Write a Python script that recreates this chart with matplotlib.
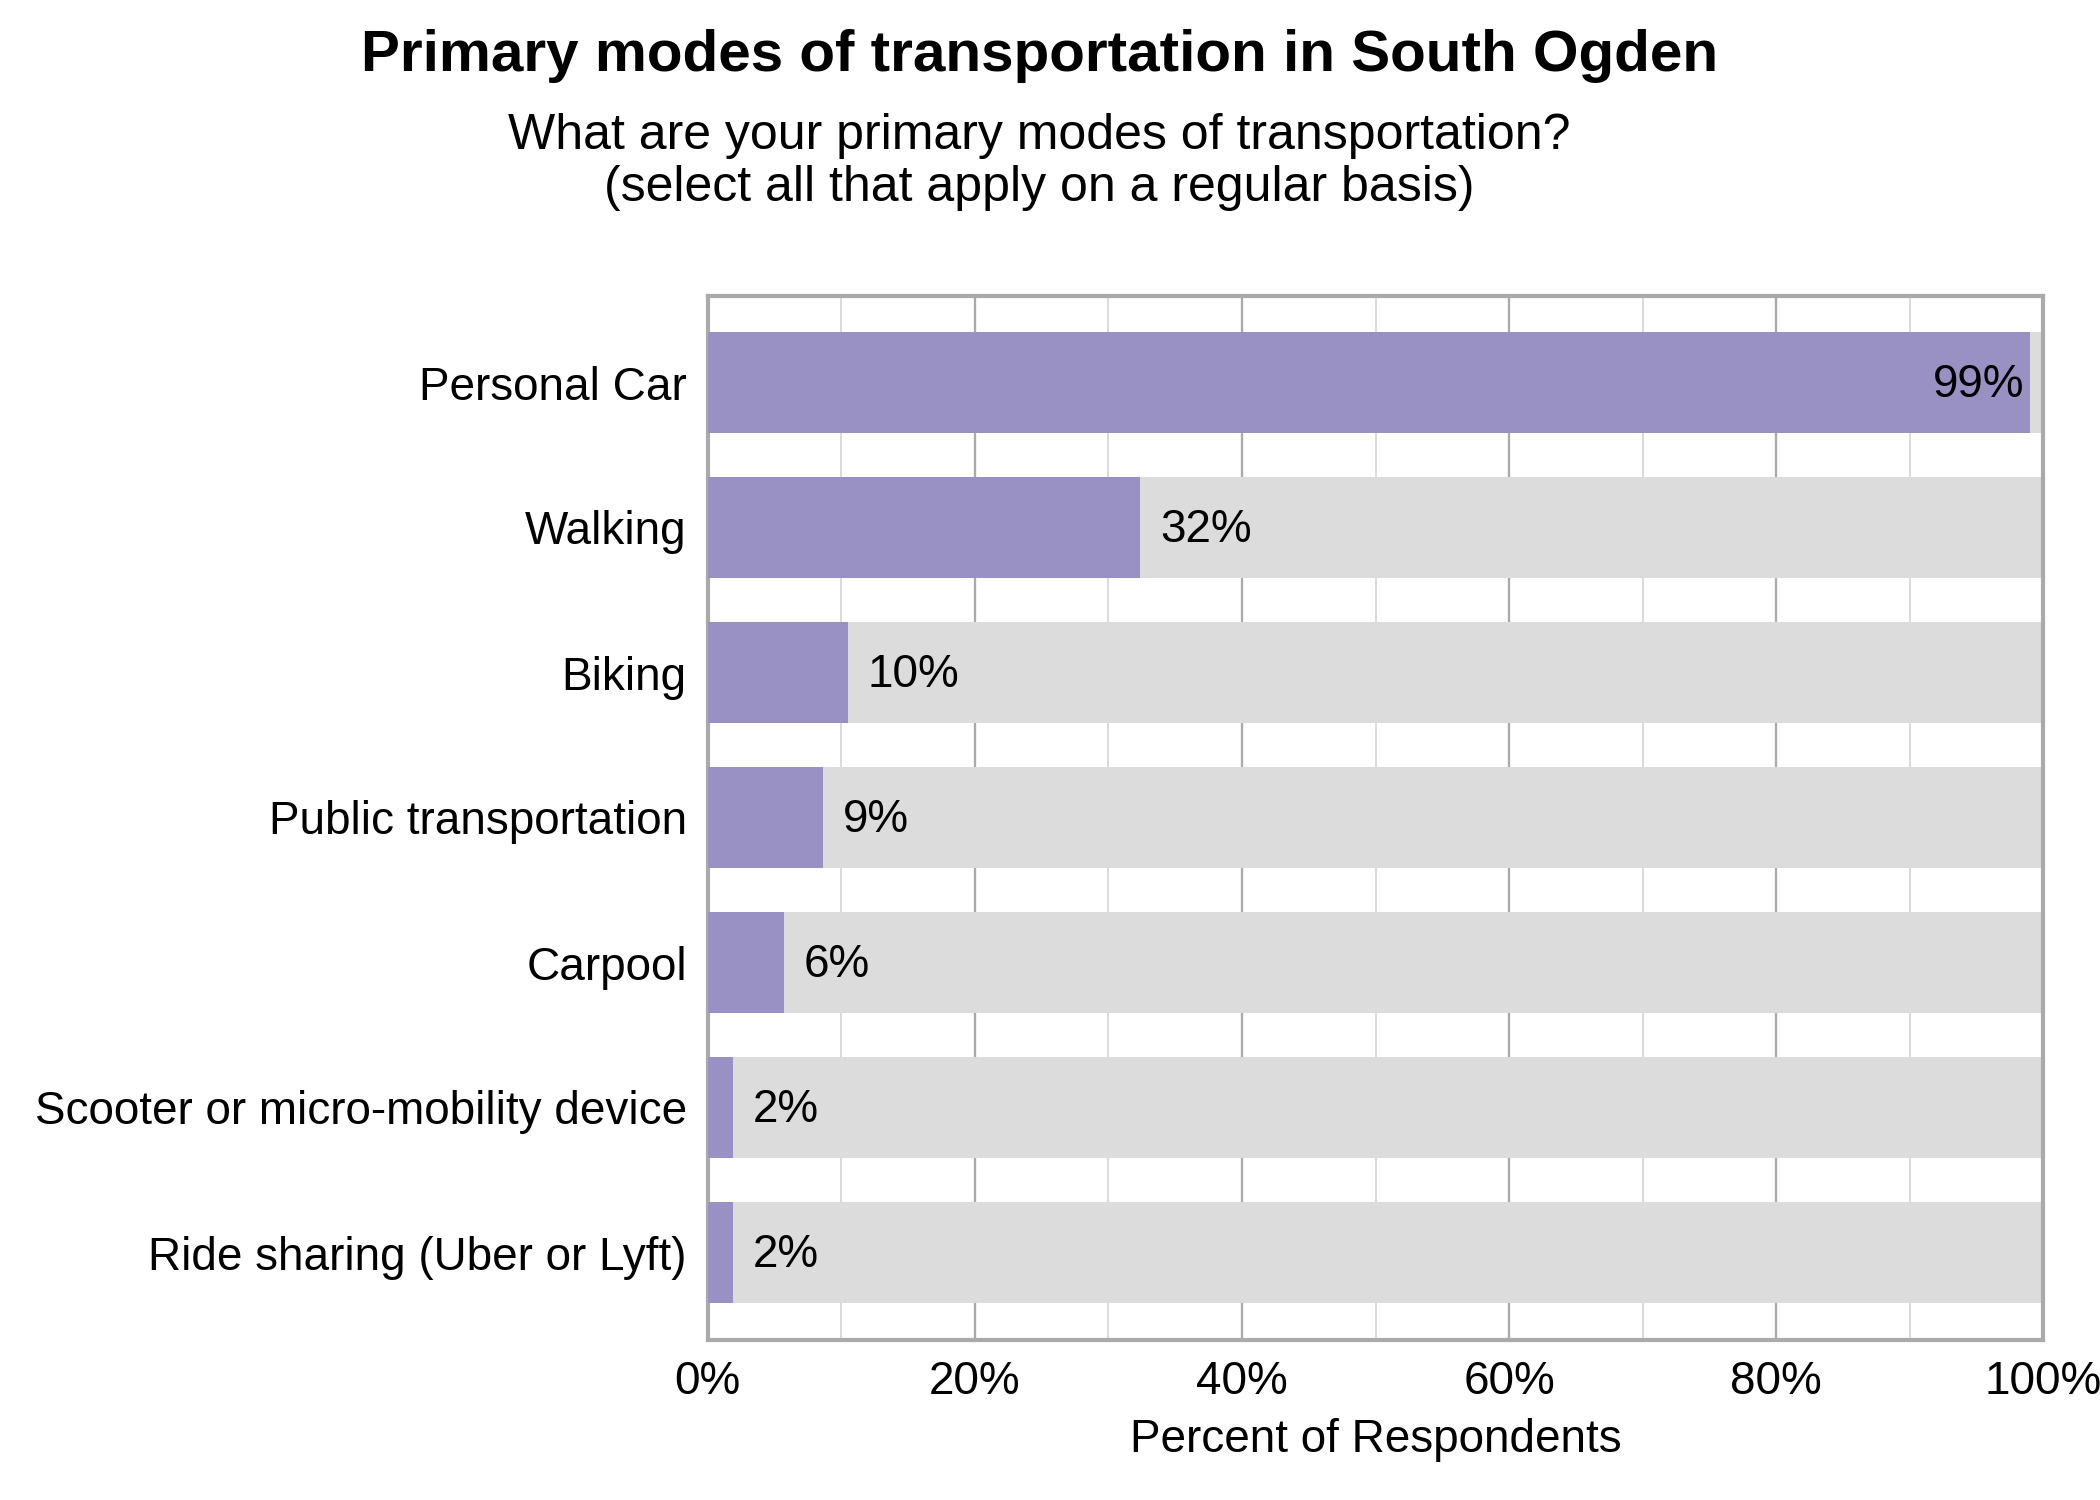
import matplotlib
matplotlib.use("Agg")
import matplotlib.pyplot as plt
from matplotlib.ticker import MultipleLocator, PercentFormatter

plt.rcParams['font.family'] = ['Liberation Sans', 'DejaVu Sans']

# ---------- Data ----------
modes = ["Personal Car", "Walking", "Biking", "Public transportation",
         "Carpool", "Scooter or micro-mobility device", "Ride sharing (Uber or Lyft)"]
pct = [99.0, 32.4, 10.5, 8.6, 5.7, 1.9, 1.9]
labels = ["99%", "32%", "10%", "9%", "6%", "2%", "2%"]

purple = "#9990c4"
bg_gray = "#dcdcdc"
spine_gray = "#aaaaaa"

fig = plt.figure(figsize=(7, 5), dpi=300)
ax = fig.add_axes([0.337, 0.107, 0.636, 0.696])

ypos = list(range(len(modes)))
ax.barh(ypos, [100] * len(modes), height=0.69, color=bg_gray, zorder=2)
ax.barh(ypos, pct, height=0.69, color=purple, zorder=3)

for y, v, lab in zip(ypos, pct, labels):
    if v > 90:
        ax.text(v - 0.4, y + 0.02, lab, ha="right", va="center", fontsize=11, zorder=4)
    else:
        ax.text(v + 1.5, y + 0.02, lab, ha="left", va="center", fontsize=11, zorder=4)

ax.set_xlim(0, 100)
ax.set_ylim(len(modes) - 0.4, -0.6)
ax.set_yticks(ypos)
ax.set_yticklabels(modes, fontsize=11)
ax.xaxis.set_major_locator(MultipleLocator(20))
ax.xaxis.set_minor_locator(MultipleLocator(10))
ax.xaxis.set_major_formatter(PercentFormatter(decimals=0))
ax.tick_params(axis="x", labelsize=11, length=0, which="both", pad=5)
ax.tick_params(axis="y", length=0, pad=5)
ax.grid(axis="x", which="major", color="#aaaaaa", linewidth=0.55, zorder=1)
ax.grid(axis="x", which="minor", color="#d4d4d4", linewidth=0.4, zorder=1)
ax.set_axisbelow(True)
for s in ax.spines.values():
    s.set_color(spine_gray)
    s.set_linewidth(1.0)

# x-axis title placed directly under the axes
fig.text(0.655, 0.04, "Percent of Respondents", ha="center", va="center", fontsize=11)

fig.text(0.495, 0.9625, "Primary modes of transportation in South Ogden",
         ha="center", va="center", fontsize=14, fontweight="bold")
fig.text(0.495, 0.892, "What are your primary modes of transportation?\n(select all that apply on a regular basis)",
         ha="center", va="center", fontsize=12, linespacing=1.17)

fig.savefig("out.png", dpi=300)
